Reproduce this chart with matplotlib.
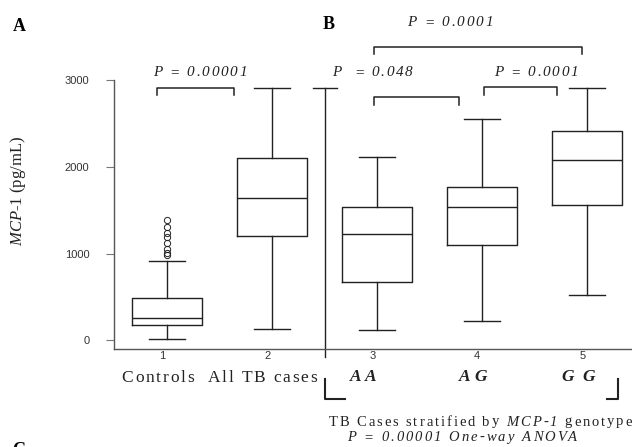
import matplotlib
matplotlib.use("Agg")
import matplotlib.pyplot as plt
from matplotlib.font_manager import FontProperties, findfont
from matplotlib.ft2font import FT2Font

# box summaries, pg/mL
groups = ["1", "2", "3", "4", "5"]
whislo = [15, 127, 122, 226, 526]
q1 = [173, 1206, 672, 1099, 1561]
medians = [261, 1645, 1222, 1534, 2080]
q3 = [491, 2099, 1534, 1765, 2418]
whishi = [918, 2905, 2111, 2549, 2905]
control_outliers = [980, 1003, 1050, 1119, 1195, 1234, 1303, 1388]

# significance brackets: (left group, right group, height)
bracket_x0 = [0.905, 2.974, 2.974, 4.024]
bracket_x1 = [1.644, 4.952, 3.787, 4.714]
bracket_y = [2911, 3384, 2801, 2916]

W, H = 632, 447
INK = "#222222"

plt.rcParams["font.family"] = ["Liberation Serif", "DejaVu Serif"]
plt.rcParams["mathtext.fontset"] = "custom"
plt.rcParams["mathtext.rm"] = "Liberation Serif"
plt.rcParams["mathtext.it"] = "Liberation Serif:italic"

fig = plt.figure(figsize=(W / 100, H / 100), dpi=100)


def fx(x):
    return x / W


def fy(y):
    return 1 - y / H


def spaced_text(x0, x1, y, parts, size):
    # letter-spaced text stretched between pixel x0 and x1, baseline at y
    glyphs = []
    for txt, style, weight in parts:
        fp = FontProperties(family="Liberation Serif", style=style, weight=weight, size=size)
        ft = FT2Font(findfont(fp))
        ft.set_size(size, 100)
        for ch in txt:
            adv = ft.load_char(ord(ch)).linearHoriAdvance / 65536
            glyphs.append((ch, fp, adv))
    natural = sum(g[2] for g in glyphs)
    gap = (x1 - x0 - natural) / max(len(glyphs) - 1, 1)
    x = x0
    for ch, fp, adv in glyphs:
        if ch != " ":
            fig.text(fx(x), fy(y), ch, fontproperties=fp, ha="left", va="baseline", color=INK)
        x += adv + gap


ax = fig.add_axes([fx(114), fy(349), (W - 114) / W, (349 - 80) / H])
ax.set_xlim(0.498, 5.431)
ax.set_ylim(-100, 3000)

stats = []
for i in range(len(groups)):
    stats.append({
        "whislo": whislo[i], "q1": q1[i], "med": medians[i], "q3": q3[i],
        "whishi": whishi[i], "fliers": control_outliers if i == 0 else [],
    })
positions = list(range(1, len(groups) + 1))
line = dict(color=INK, linewidth=1.0)
ax.bxp(stats, positions=positions, widths=0.667, capwidths=0.34,
       boxprops=line, whiskerprops=line, capprops=line, medianprops=line,
       flierprops=dict(marker="o", markersize=4.5, markerfacecolor="none",
                       markeredgecolor=INK, markeredgewidth=0.7),
       manage_ticks=False)

# divider between panels A and B
ax.plot([2.508, 2.508], [2905, -196], color=INK, lw=1.0, clip_on=False)
ax.plot([2.39, 2.625], [2905, 2905], color=INK, lw=1.0, clip_on=False)

for a, b, h in zip(bracket_x0, bracket_x1, bracket_y):
    ax.plot([a, a, b, b], [h - 85, h, h, h - 85], color=INK, lw=1.1, clip_on=False)

ax.set_xticks([p - 0.043 for p in positions], groups)
ax.set_yticks([0, 1000, 2000, 3000])
ax.tick_params(axis="x", length=0, pad=1.5, labelsize=8, labelcolor="#333333")
ax.tick_params(axis="y", length=5.8, width=0.8, color="#777777", pad=12,
               labelsize=8, labelcolor="#333333")
for lab in ax.get_xticklabels() + ax.get_yticklabels():
    lab.set_fontfamily("Liberation Sans")
for s in ["top", "right"]:
    ax.spines[s].set_visible(False)
for s in ["left", "bottom"]:
    ax.spines[s].set_color("#555555")
    ax.spines[s].set_linewidth(1.0)

fig.text(fx(18.5), fy(190.5), r"$\mathit{MCP}$-$\mathit{1}$ (pg/mL)", rotation=90,
         ha="center", va="center", fontsize=12, color=INK)

# p-values
spaced_text(152.7, 246.7, 76, [("P = 0.00001", "italic", "normal")], 11)
spaced_text(407, 493, 25.7, [("P = 0.0001", "italic", "normal")], 11)
spaced_text(331.7, 412.7, 76, [("P  = 0.048", "italic", "normal")], 11)
spaced_text(494, 578, 76, [("P = 0.0001", "italic", "normal")], 11)

# group names
spaced_text(121.7, 316.7, 381.7, [("Controls  All TB cases", "normal", "normal")], 12.5)
spaced_text(350, 376, 380.7, [("AA", "italic", "bold")], 12.5)
spaced_text(459, 487.3, 380.7, [("AG", "italic", "bold")], 12.5)
spaced_text(561, 595, 380.7, [("G G", "italic", "bold")], 12.5)

# corner marks under the genotype groups
fig.add_artist(plt.Line2D([fx(325), fx(325), fx(345)], [fy(379), fy(399), fy(399)],
                          color=INK, lw=1.5))
fig.add_artist(plt.Line2D([fx(606.7), fx(618), fx(618)], [fy(399), fy(399), fy(379)],
                          color=INK, lw=1.5))

spaced_text(328.3, 631.7, 425.5, [("TB Cases stratified by ", "normal", "normal"),
                                   ("MCP-1", "italic", "normal"),
                                   (" genotype", "normal", "normal")], 10.5)
spaced_text(346.7, 577, 440.7, [("P = 0.00001 One-way ANOVA", "italic", "normal")], 10.5)

# panel letters (C is cut by the bottom edge, as in the source)
fig.text(fx(12.7), fy(31), "A", fontsize=13, fontweight="bold", va="baseline", color="black")
fig.text(fx(322.7), fy(29.3), "B", fontsize=13, fontweight="bold", va="baseline", color="black")
fig.text(fx(12), fy(441.7), "C", fontsize=13, fontweight="bold", va="top", color="black")

fig.savefig("out.png", dpi=100)
